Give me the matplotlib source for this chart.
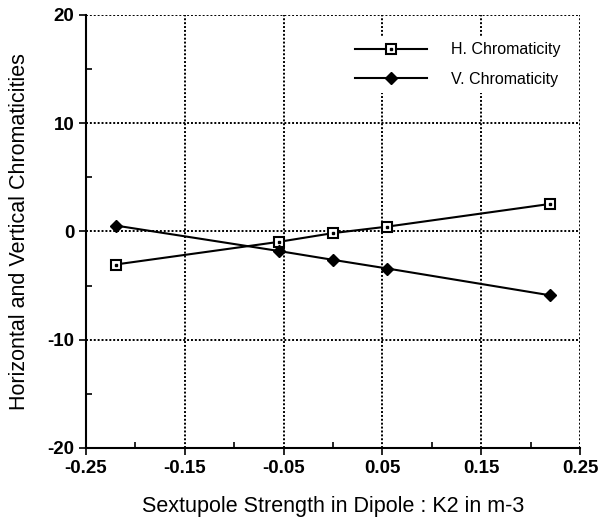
import matplotlib
matplotlib.use("Agg")
import matplotlib.pyplot as plt
from matplotlib.ticker import MultipleLocator

plt.rcParams['font.family'] = ['Liberation Sans', 'DejaVu Sans']
plt.rcParams['axes.unicode_minus'] = False

# sextupole strength (K2 in m-3)
k2 = [-0.22, -0.055, 0.0, 0.055, 0.22]
# chromaticities
h_chrom = [-3.05, -0.96, -0.15, 0.45, 2.55]
v_chrom = [0.55, -1.8, -2.62, -3.42, -5.9]

xticks = [-0.25, -0.15, -0.05, 0.05, 0.15, 0.25]
xticklabels = ['-0.25', '-0.15', '-0.05', '0.05', '0.15', '0.25']
yticks = [-20, -10, 0, 10, 20]

fig = plt.figure(figsize=(6.08, 5.17), dpi=100)
ax = fig.add_axes([0.1414, 0.1335, 0.8126, 0.8375])

# grid first so data sits on top
ax.set_axisbelow(True)
ax.grid(True, which='major', color='black', linestyle=(0, (1, 1)), linewidth=1.4)

h_line, = ax.plot(k2, h_chrom, color='black', lw=1.5, marker='s', ms=7,
                  mfc='white', mec='black', mew=1.5, zorder=3)
h_dot, = ax.plot(k2, h_chrom, ls='none', marker='s', ms=1.6, color='black', zorder=4)
v_line, = ax.plot(k2, v_chrom, color='black', lw=1.5, marker='D', ms=6,
                  mfc='black', mec='black', zorder=3)

ax.set_xlim(-0.25, 0.25)
ax.set_ylim(-20, 20)
ax.set_xticks(xticks)
ax.set_xticklabels(xticklabels)
ax.set_yticks(yticks)
ax.xaxis.set_minor_locator(MultipleLocator(0.1))
ax.yaxis.set_minor_locator(MultipleLocator(5))
ax.tick_params(which='major', direction='out', length=5, width=1.2, labelsize=13.5)
ax.tick_params(which='minor', direction='in', length=4, width=1.2)
for lbl in ax.get_xticklabels() + ax.get_yticklabels():
    lbl.set_fontweight('bold')

for s in ['top', 'right']:
    ax.spines[s].set_visible(False)
for s in ['left', 'bottom']:
    ax.spines[s].set_linewidth(1.5)

ax.set_xlabel('Sextupole Strength in Dipole : K2 in m-3', fontsize=15.5, labelpad=14)
ax.set_ylabel('Horizontal and Vertical Chromaticities', fontsize=15.5, labelpad=12)

leg = ax.legend([(h_line, h_dot), v_line], ['H. Chromaticity', 'V. Chromaticity'],
                loc='upper right', bbox_to_anchor=(0.99, 0.97), frameon=True,
                edgecolor='none', facecolor='white', framealpha=1,
                handlelength=4.5, handletextpad=1.5, fontsize=11.5, labelspacing=0.9)

fig.savefig('out.png', dpi=100)
